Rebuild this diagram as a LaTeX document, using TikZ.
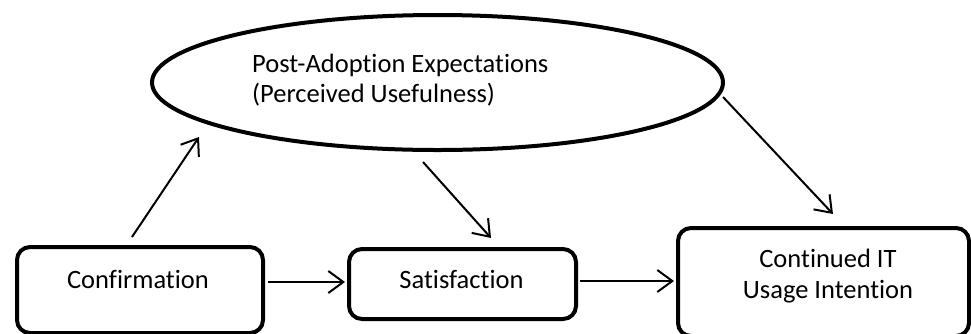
\documentclass[tikz,border=0pt]{standalone}
\usepackage{fontspec}
\setmainfont{Carlito}[Ligatures={NoCommon}]
\usetikzlibrary{shapes.geometric,arrows.meta}
\begin{document}
\begin{tikzpicture}[x=1pt,y=-1pt,
  box/.style={draw,line width=4pt,rounded corners=13pt,inner sep=0pt},
  oval/.style={draw,ellipse,line width=4pt,inner sep=0pt},
  lbl/.style={font=\fontsize{26.5}{32}\selectfont,inner sep=0pt,anchor=base},
  conn/.style={line width=2pt,-{Straight Barb[length=15pt,width=22pt,line width=2pt]}}]
\useasboundingbox (0,0) rectangle (971,333);
\node[oval,minimum width=571pt,minimum height=135pt] (pae) at (437.5,82.5) {};
\node[lbl,anchor=base west] (paet1) at (252,72) {Post-Adoption Expectations};
\node[lbl,anchor=base west] (paet2) at (252,102) {(Perceived Usefulness)};
\node[box,minimum width=246pt,minimum height=86pt] (conf) at (140,290) {};
\node[lbl] (conft) at (138,288) {Confirmation};
\node[box,minimum width=227pt,minimum height=70pt] (sat) at (462.5,284) {};
\node[lbl] (satt) at (461.5,288) {Satisfaction};
\node[box,minimum width=291pt,minimum height=108pt] (cont) at (823.5,282) {};
\node[lbl] (contt1) at (828,267) {Continued IT};
\node[lbl] (contt2) at (828,298) {Usage Intention};
\coordinate (c1a) at (132,237);
\coordinate (c1b) at (199,137);
\coordinate (c2a) at (423,162);
\coordinate (c2b) at (491,238);
\coordinate (c3a) at (723,97);
\coordinate (c3b) at (833,214);
\coordinate (c4a) at (268,282);
\coordinate (c4b) at (345,282);
\coordinate (c5a) at (580,281);
\coordinate (c5b) at (674,281);
\draw[conn] (c1a) -- (c1b);
\draw[conn] (c2a) -- (c2b);
\draw[conn] (c3a) -- (c3b);
\draw[conn] (c4a) -- (c4b);
\draw[conn] (c5a) -- (c5b);
\end{tikzpicture}
\end{document}
